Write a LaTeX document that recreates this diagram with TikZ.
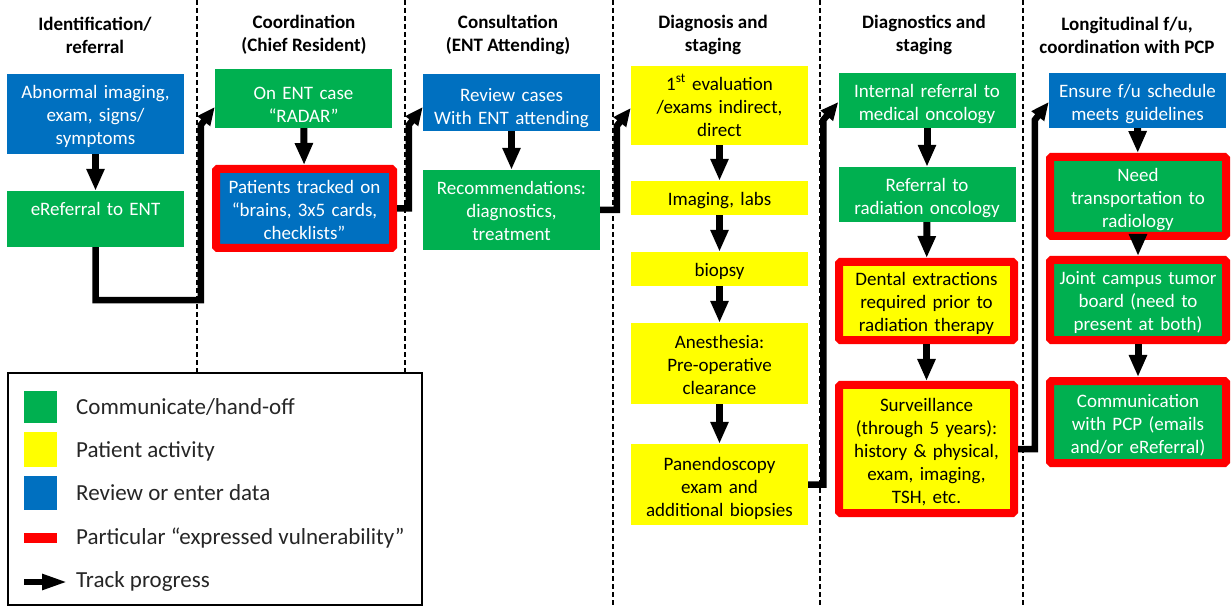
\documentclass[tikz,border=0pt]{standalone}
\usepackage{fontspec}
\setmainfont{Carlito}
\usetikzlibrary{arrows.meta,calc}
\definecolor{ogreen}{HTML}{00B050}
\definecolor{oyellow}{HTML}{FFFF00}
\definecolor{oblue}{HTML}{0070C0}
\definecolor{ored}{HTML}{FF0000}
\newcommand{\myboxfont}{\fontsize{19bp}{23bp}\selectfont}
\newcommand{\myheadfont}{\fontsize{19bp}{23bp}\selectfont\bfseries}
\newcommand{\mylegfont}{\fontsize{23bp}{27bp}\selectfont}
\tikzset{
  % struts above the first and below the last text line set where the text sits
  btop/.initial=21bp,
  bbot/.initial=5bp,
  box/.style={inner sep=0pt, minimum width=177bp, text width=177bp,
    align=center, font=\myboxfont, text=white,
    execute at begin node={\rule{0pt}{\pgfkeysvalueof{/tikz/btop}}},
    execute at end node={\rule[-\pgfkeysvalueof{/tikz/bbot}]{0pt}{0pt}}},
  gbox/.style={box, fill=ogreen},
  bbox/.style={box, fill=oblue},
  ybox/.style={box, fill=oyellow, text=black},
  rbox/.style={draw=ored, line width=8bp, rounded corners=1.5bp, text width=165bp},
  head/.style={align=center, font=\myheadfont, inner sep=0pt},
  lane/.style={line width=1.1bp, dash pattern=on 5bp off 3bp},
  flow/.style={line width=7bp, -{Triangle[length=22bp,width=17bp]}},
  elbow/.style={line width=6.5bp, line join=miter, -{Triangle[length=18bp,width=15bp]}},
  legtext/.style={anchor=west, font=\mylegfont, inner sep=0pt, text=black!85}
}
\begin{document}
\begin{tikzpicture}[x=1bp,y=-1bp]
\useasboundingbox (0,0) rectangle (1231,607);

% lane separators
\foreach \lx in {197,405,613,820,1023} \draw[lane] (\lx,0) -- (\lx,607);

% column headings
\node[head] (h1) at (95,35) {Identification/\\referral};
\node[head] (h2) at (304,35) {Coordination\\(Chief Resident)};
\node[head] (h3) at (508,35) {Consultation\\(ENT Attending)};
\node[head] (h4) at (713,35) {Diagnosis and\\staging};
\node[head] (h5) at (924,35) {Diagnostics and\\staging};
\node[head] (h6) at (1127,35) {Longitudinal f/u,\\coordination with PCP};

% identification / referral
\node[bbox, minimum height=80bp] (abn) at (95.5,114) {Abnormal imaging,\\exam, signs/\\symptoms};
\node[gbox, minimum height=56bp, btop=15bp, bbot=21bp] (eref) at (95.5,219) {eReferral to ENT};

% coordination
\node[gbox, minimum height=49bp, btop=31bp] (radar) at (303.5,98.5) {On ENT case\\“RADAR”};
\node[bbox, rbox, minimum height=79bp] (tracked) at (304.5,208.5) {Patients tracked on\\“brains, 3x5 cards,\\checklists”};

% consultation
\node[bbox, minimum height=57bp, btop=27bp] (review) at (511.5,102.5) {Review cases\\With ENT attending};
\node[gbox, minimum height=80bp] (recs) at (511.5,210) {Recommendations:\\diagnostics,\\treatment};

% diagnosis and staging
\node[ybox, minimum height=79bp] (eval) at (719.5,105.5) {1\textsuperscript{st} evaluation\\/exams indirect,\\direct};
\node[ybox, minimum height=34bp] (imglabs) at (719.5,198) {Imaging, labs};
\node[ybox, minimum height=34bp] (biopsy) at (719.5,269) {biopsy};
\node[ybox, minimum height=81bp] (anesth) at (719.5,363.5) {Anesthesia:\\Pre-operative\\clearance};
\node[ybox, minimum height=81bp, btop=23bp] (panendo) at (719.5,484.5) {Panendoscopy\\exam and\\additional biopsies};

% diagnostics and staging
\node[gbox, minimum height=55bp, btop=23bp] (intref) at (927,100.5) {Internal referral to\\medical oncology};
\node[gbox, minimum height=55bp, btop=23bp] (radref) at (927,194.5) {Referral to\\radiation oncology};
\node[ybox, rbox, minimum width=175bp, minimum height=78bp] (dental) at (926.5,301) {Dental extractions\\required prior to\\radiation therapy};
\node[ybox, rbox, minimum width=175bp, minimum height=128bp] (surv) at (926.5,449) {Surveillance\\(through 5 years):\\history \& physical,\\exam, imaging,\\TSH, etc.};

% longitudinal follow-up
\node[bbox, minimum height=55bp, btop=23bp] (ensure) at (1137.5,100.5) {Ensure f/u schedule\\meets guidelines};
\node[gbox, rbox, minimum width=176bp, minimum height=79bp] (transp) at (1138,196.5) {Need\\transportation to\\radiology};
\node[gbox, rbox, minimum width=176bp, minimum height=80bp] (joint) at (1138,300) {Joint campus tumor\\board (need to\\present at both)};
\node[gbox, rbox, minimum width=176bp, minimum height=82bp] (comm) at (1138,422) {Communication\\with PCP (emails\\and/or eReferral)};

% steps within a column
\draw[flow] (abn) -- (eref);
\draw[flow] (radar) -- (tracked);
\draw[flow] (review) -- (recs);
\draw[flow] (eval) -- (imglabs);
\draw[flow] (imglabs) -- (biopsy);
\draw[flow] (biopsy) -- (anesth);
\draw[flow] (anesth) -- (panendo);
\draw[flow] (intref) -- (radref);
\draw[flow] (radref) -- (dental);
\draw[flow] (dental) -- (surv);
\draw[flow] (ensure) -- (transp);
\draw[flow] (transp) -- (joint);
\draw[flow] (joint) -- (comm);

% hand-offs between columns
\draw[elbow] (eref.south) -- ++(0,53) -| ($(radar.west)+(-14,26.5)$) -- ($(radar.west)+(0,8.5)$);
\draw[elbow] (tracked.east) -| ($(review.west)+(-14,22.5)$) -- ($(review.west)+(0,4.5)$);
\draw[elbow] (recs.east) -| ($(eval.west)+(-14,20.5)$) -- ($(eval.west)+(0,2.5)$);
\draw[elbow] (panendo.east) -| ($(intref.west)+(-15,19.5)$) -- ($(intref.west)+(0,1.5)$);
\draw[elbow] (surv.east) -| ($(ensure.west)+(-14,19.5)$) -- ($(ensure.west)+(0,1.5)$);

% legend
\node[draw=black, fill=white, line width=2bp, minimum width=414bp, minimum height=232bp, inner sep=0pt] (legend) at (215,489) {};
\node[fill=ogreen, minimum width=33bp, minimum height=32bp, inner sep=0pt] (lg) at (40.5,407) {};
\node[fill=oyellow, minimum width=33bp, minimum height=35bp, inner sep=0pt] (ly) at (40.5,449.5) {};
\node[fill=oblue, minimum width=33bp, minimum height=34bp, inner sep=0pt] (lb) at (40.5,493) {};
\node[fill=ored, minimum width=33bp, minimum height=10bp, inner sep=0pt] (lr) at (40.5,538) {};
\coordinate (la0) at (24,582);
\coordinate (la1) at (67,582);
\draw[line width=5.5bp, -{Triangle[length=25bp,width=15bp]}] (la0) -- (la1);
\node[legtext] (t1) at (76,407) {Communicate/hand-off};
\node[legtext] (t2) at (76,451) {Patient activity};
\node[legtext] (t3) at (76,493) {Review or enter data};
\node[legtext] (t4) at (76,538) {Particular “expressed vulnerability”};
\node[legtext] (t5) at (76,581) {Track progress};
\end{tikzpicture}
\end{document}
